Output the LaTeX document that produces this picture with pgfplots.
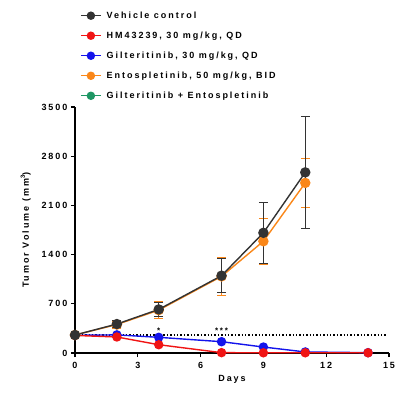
\documentclass[border=0pt]{standalone}
\usepackage{pgfplots}
\pgfplotsset{compat=1.18}
\usepackage{pgfplotstable}
\usepackage{fontspec}
\setmainfont{Liberation Sans}[LetterSpace=22]
\definecolor{cveh}{RGB}{51,51,51}
\definecolor{chm}{RGB}{240,20,20}
\definecolor{cgil}{RGB}{20,20,235}
\definecolor{cent}{RGB}{250,135,25}
\definecolor{ccom}{RGB}{30,150,100}
\pgfplotstableread{
x y e
0 256 15
2 412 50
4 620 95
7 1100 240
9 1710 440
11 2570 800
}\veh
\pgfplotstableread{
x y e
0 250 15
2 228 40
4 118 20
7 5 5
9 3 3
11 3 3
14 3 3
}\hm
\pgfplotstableread{
x y e
0 252 15
2 258 20
4 223 20
7 161 20
9 85 15
11 15 8
14 5 3
}\gil
\pgfplotstableread{
x y e
0 256 15
2 405 50
4 610 120
7 1090 275
9 1590 330
11 2420 350
}\ent
\begin{document}
\bfseries
\begin{tikzpicture}
\begin{axis}[
  scale only axis, width=314pt, height=246pt,
  xmin=0, xmax=15, ymin=0, ymax=3500,
  xtick={0,3,6,9,12,15}, ytick={0,700,1400,2100,2800,3500},
  axis x line*=bottom, axis y line*=left,
  axis line style={line width=1.3pt, black},
  tick style={line width=1.1pt, black},
  tick align=outside, major tick length=4pt,
  every axis plot/.append style={line width=1.4pt},
  /pgf/number format/assume math mode=true,
  /pgf/number format/1000 sep={},
  ticklabel style={font=\fontsize{9}{10}\selectfont\bfseries},
  xticklabel style={yshift=-2pt},
  xlabel={Days}, ylabel={Tumor Volume (mm\textsuperscript{3})},
  label style={font=\fontsize{9}{11}\selectfont\bfseries},
  ylabel style={yshift=4pt},
  legend cell align=left,
  legend style={draw=none, fill=none, at={(axis description cs:0.0,1.0)}, anchor=south west,
    xshift=3pt, yshift=3pt,
    font=\fontsize{9}{11}\selectfont\bfseries, row sep=8pt, inner sep=2pt},
  legend image code/.code={\draw[#1] (0pt,0pt) -- (20pt,0pt); \draw[#1, mark repeat=1] plot coordinates {(10pt,0pt)}; \path (23pt,0pt);},
  clip=false,
]
\coordinate (O) at (rel axis cs:0,0);
\addlegendimage{cveh, mark=*, mark size=3.5pt}
\addlegendentry{Vehicle control}
\addlegendimage{chm, mark=*, mark size=3.5pt}
\addlegendentry{HM43239, 30 mg/kg, QD}
\addlegendimage{cgil, mark=*, mark size=3.5pt}
\addlegendentry{Gilteritinib, 30 mg/kg, QD}
\addlegendimage{cent, mark=*, mark size=3.5pt}
\addlegendentry{Entospletinib, 50 mg/kg, BID}
\addlegendimage{ccom, mark=*, mark size=3.5pt}
\addlegendentry{Gilteritinib + Entospletinib}

\addplot[black, dotted, line width=1.2pt, forget plot] coordinates {(0,256) (14.9,256)};
\addplot[cgil, mark=*, mark size=4pt, forget plot] table[x=x,y=y] {\gil};
\addplot[chm, mark=*, mark size=4pt, forget plot] table[x=x,y=y] {\hm};
\addplot[cent, mark=*, mark size=4.5pt, forget plot,
  error bars/.cd, y dir=both, y explicit, error bar style={line width=0.7pt},
  error mark options={rotate=90, mark size=4.5pt, line width=0.7pt}]
  table[x=x,y=y,y error=e] {\ent};
\addplot[cveh, mark=*, mark size=4.5pt, forget plot,
  error bars/.cd, y dir=both, y explicit, error bar style={line width=0.7pt},
  error mark options={rotate=90, mark size=4.5pt, line width=0.7pt}]
  table[x=x,y=y,y error=e] {\veh};
\node[font=\fontsize{8}{9}\selectfont, anchor=south, inner sep=1pt] at (axis cs:4,265) {*};
\node[font=\fontsize{8}{9}\selectfont, anchor=south, inner sep=1pt] at (axis cs:7,265) {***};
\end{axis}
\pgfresetboundingbox
\path ([shift={(-75pt,-39pt)}]O) rectangle ([shift={(321pt,353pt)}]O);
\end{tikzpicture}
\end{document}
